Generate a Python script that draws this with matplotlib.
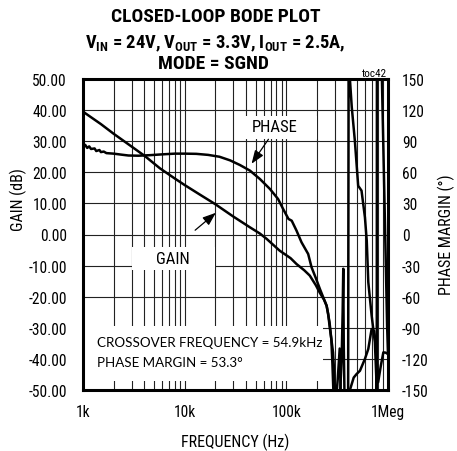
import matplotlib
matplotlib.use("Agg")
import matplotlib.pyplot as plt
from matplotlib import font_manager
from matplotlib.patches import Rectangle
from matplotlib.ticker import FixedLocator, NullFormatter

# ---- pick a condensed sans if one is installed ----
_fonts = font_manager.fontManager.ttflist
NARROW_NAME, NARROW_STRETCH = None, 'normal'
for pref in ('Liberation Sans Narrow', 'Arial Narrow', 'Roboto Condensed',
             'Open Sans Condensed', 'Noto Sans Condensed', 'DejaVu Sans Condensed'):
    if any(f.name == pref for f in _fonts):
        NARROW_NAME = pref
        break
if NARROW_NAME is None:
    for base in ('Liberation Sans', 'Noto Sans', 'Roboto', 'Open Sans', 'DejaVu Sans'):
        hit = [f for f in _fonts if f.name == base and f.stretch in
               ('condensed', 'semi-condensed', 'extra-condensed')]
        if hit:
            NARROW_NAME, NARROW_STRETCH = base, hit[0].stretch
            break
if NARROW_NAME is None:
    NARROW_NAME = 'Liberation Sans'
    SCALE = 0.84
else:
    SCALE = 1.0

plt.rcParams['font.family'] = [NARROW_NAME, 'Liberation Sans', 'DejaVu Sans']
plt.rcParams['font.stretch'] = NARROW_STRETCH

# ---- data ----
gain_freq = [1000, 1500, 2000, 3000, 4070, 5700, 8000, 10000, 14000, 19900, 30000,
             43900, 55000, 64000, 86000, 110000, 126000, 150000, 170000, 195000,
             214000, 235000, 249000, 258000, 266000, 278000, 288000, 295000, 300000,
             310000, 335000, 350000, 358000, 363000, 367000, 375000, 400000, 422000,
             460000, 490000, 530000, 593000, 640000, 690000, 730000, 760000, 800000,
             850000, 900000, 950000, 1000000]
gain_db = [39.5, 35.5, 32.4, 28.3, 25.2, 21.3, 18.0, 15.9, 12.9, 9.8, 5.8,
           2.3, 0.3, -1.4, -5.2, -7.6, -9.5, -11.5, -13.2, -16.3,
           -18.8, -21.0, -22.9, -25.5, -29.3, -34.0, -37.9, -44.0, -50.0,
           -56.0, -54.0, -40.0, -25.0, -11.0, -35.0, -56.0, -57.0, -50.0,
           -46.0, -44.9, -43.8, -40.0, -36.8, -30.4, -31.0, -35.8, -47.5,
           -42.2, -37.9, -38.0, -38.4]

phase_freq = [1000, 1050, 1100, 1150, 1200, 1300, 1350, 1450, 1500, 1600, 1700,
              2000, 2400, 2800, 3500, 4500, 6000, 8000, 10000, 13000, 17000,
              22000, 28000, 35000, 43900, 55000, 69000, 83000, 93000, 105000,
              113000, 126000, 141000, 164000, 177000, 195000, 214000, 249000,
              266000, 277000, 284000, 290000, 300000, 320000, 335000, 345000,
              380000, 405000, 410000, 422000, 440000, 472000, 509000, 549000,
              593000, 618000, 640000, 690000, 743000, 770000, 775000, 778000,
              860000, 871000, 920000, 980000, 1000000]
phase_deg = [85.0, 86.5, 83.5, 85.0, 82.5, 83.0, 80.5, 81.5, 79.5, 80.0, 78.5,
             78.0, 77.0, 76.2, 76.0, 76.5, 77.3, 78.0, 78.0, 77.8, 76.8,
             75.0, 71.5, 67.0, 61.6, 53.5, 43.9, 34.2, 24.6, 15.0,
             13.3, 3.7, -7.5, -18.8, -31.6, -42.0, -52.6, -68.7,
             -84.7, -100.8, -125.0, -150.0, -175.0, -140.0, -110.0, -165.0,
             -178.0, -179.0, 179.0, 150.0, 123.0, 90.5, 47.0, 42.3,
             16.6, -6.0, -46.0, -78.0, -104.0, -142.0, -178.0, 178.0,
             170.0, 150.0, 40.0, -88.0, -115.0]

gain_ticks = [50, 40, 30, 20, 10, 0, -10, -20, -30, -40, -50]
phase_ticks = [150, 120, 90, 60, 30, 0, -30, -60, -90, -120, -150]
freq_ticks = [1e3, 1e4, 1e5, 1e6]
freq_labels = ['1k', '10k', '100k', '1Meg']

TICK_FS = 11.2 * SCALE
LAB_FS = 11.5 * SCALE
TITLE_FS = 14 * SCALE

# ---- figure ----
fig = plt.figure(figsize=(4.57, 4.52), dpi=100)
ax = fig.add_axes([83/457, 1-391/452, 305/457, 311/452])
ax.set_xscale('log')
ax.set_xlim(1e3, 1e6)
ax.set_ylim(-50, 50)
ax.set_yticks(gain_ticks)
ax.set_yticklabels([f'{v:.2f}' for v in gain_ticks])
ax.set_xticks(freq_ticks)
ax.set_xticklabels(freq_labels)
minor = [m * 10**e for e in (3, 4, 5) for m in range(2, 10)]
ax.xaxis.set_minor_locator(FixedLocator(minor))
ax.xaxis.set_minor_formatter(NullFormatter())
ax.grid(True, which='both', color='#222222', lw=0.8, zorder=0)
ax.set_axisbelow(True)
ax.tick_params(axis='both', which='both', length=0, labelsize=TICK_FS)
ax.tick_params(axis='y', pad=11.5)
ax.tick_params(axis='x', pad=10)
for s in ax.spines.values():
    s.set_linewidth(2.2)
    s.set_zorder(5)

ax.set_xlabel('FREQUENCY (Hz)', fontsize=LAB_FS, labelpad=10)
fig.text(18/457, 1-200/452, 'GAIN (dB)', rotation=90, ha='center', va='center', fontsize=LAB_FS)

# white boxes
ax.add_patch(Rectangle((0, 0.029), 0.787, 0.177, transform=ax.transAxes,
                       facecolor='white', edgecolor='none', zorder=1.5))
ax.add_patch(Rectangle((0.161, 0.386), 0.272, 0.074, transform=ax.transAxes,
                       facecolor='white', edgecolor='none', zorder=1.5))
ax.add_patch(Rectangle((0.525, 0.807), 0.242, 0.074, transform=ax.transAxes,
                       facecolor='white', edgecolor='none', zorder=1.5))

ax.plot(gain_freq, gain_db, color='black', lw=1.8, zorder=3)

# annotations
ax.text((173-83)/305, (391-260)/311, 'GAIN', transform=ax.transAxes,
        ha='center', va='center', fontsize=12, zorder=4)
ax.text((275-83)/305, (391-128)/311, 'PHASE', transform=ax.transAxes,
        ha='center', va='center', fontsize=12, zorder=4)
ax.annotate('', xy=((218-83)/305, (391-212)/311), xytext=((193-83)/305, (391-233)/311),
            xycoords='axes fraction', textcoords='axes fraction',
            arrowprops=dict(arrowstyle='-|>,head_length=0.8,head_width=0.3', color='black', lw=0.9),
            zorder=4)
ax.annotate('', xy=((250-83)/305, (391-167)/311), xytext=((270-83)/305, (391-138)/311),
            xycoords='axes fraction', textcoords='axes fraction',
            arrowprops=dict(arrowstyle='-|>,head_length=0.8,head_width=0.3', color='black', lw=0.9),
            zorder=4)
ax.text((97-83)/305, (391-343)/311, 'CROSSOVER FREQUENCY = 54.9kHz', transform=ax.transAxes,
        ha='left', va='center', fontsize=9.6, family=['Lato', 'DejaVu Sans'],
        fontstretch='normal', zorder=4)
ax.text((97-83)/305, (391-363)/311, 'PHASE MARGIN = 53.3\u00b0', transform=ax.transAxes,
        ha='left', va='center', fontsize=9.6, family=['Lato', 'DejaVu Sans'],
        fontstretch='normal', zorder=4)

# phase axis
ax2 = ax.twinx()
ax2.set_ylim(-150, 150)
ax2.set_yticks(phase_ticks)
ax2.set_yticklabels([str(v) for v in phase_ticks])
ax2.tick_params(axis='y', length=0, labelsize=TICK_FS, pad=10)
for s in ax2.spines.values():
    s.set_visible(False)
ax2.plot(phase_freq, phase_deg, color='black', lw=1.8, zorder=3)
fig.text(446/457, 1-235/452, 'PHASE MARGIN (\u00b0)', rotation=90, ha='center', va='center',
         fontsize=LAB_FS)

# titles
fig.text(216/457, 1-17/452, 'CLOSED-LOOP BODE PLOT', ha='center', va='center',
         fontsize=TITLE_FS, fontweight='bold')
fig.text(215/457, 1-44/452,
         r'V$_\mathregular{IN}$ = 24V, V$_\mathregular{OUT}$ = 3.3V, I$_\mathregular{OUT}$ = 2.5A,',
         ha='center', va='center', fontsize=13.3 * SCALE, fontweight='bold')
fig.text(213/457, 1-64/452, 'MODE = SGND', ha='center', va='center',
         fontsize=TITLE_FS, fontweight='bold')
fig.text(387/457, 1-74/452, 'toc42', ha='right', va='center', fontsize=8 * SCALE)

fig.savefig('out.png', dpi=100)
